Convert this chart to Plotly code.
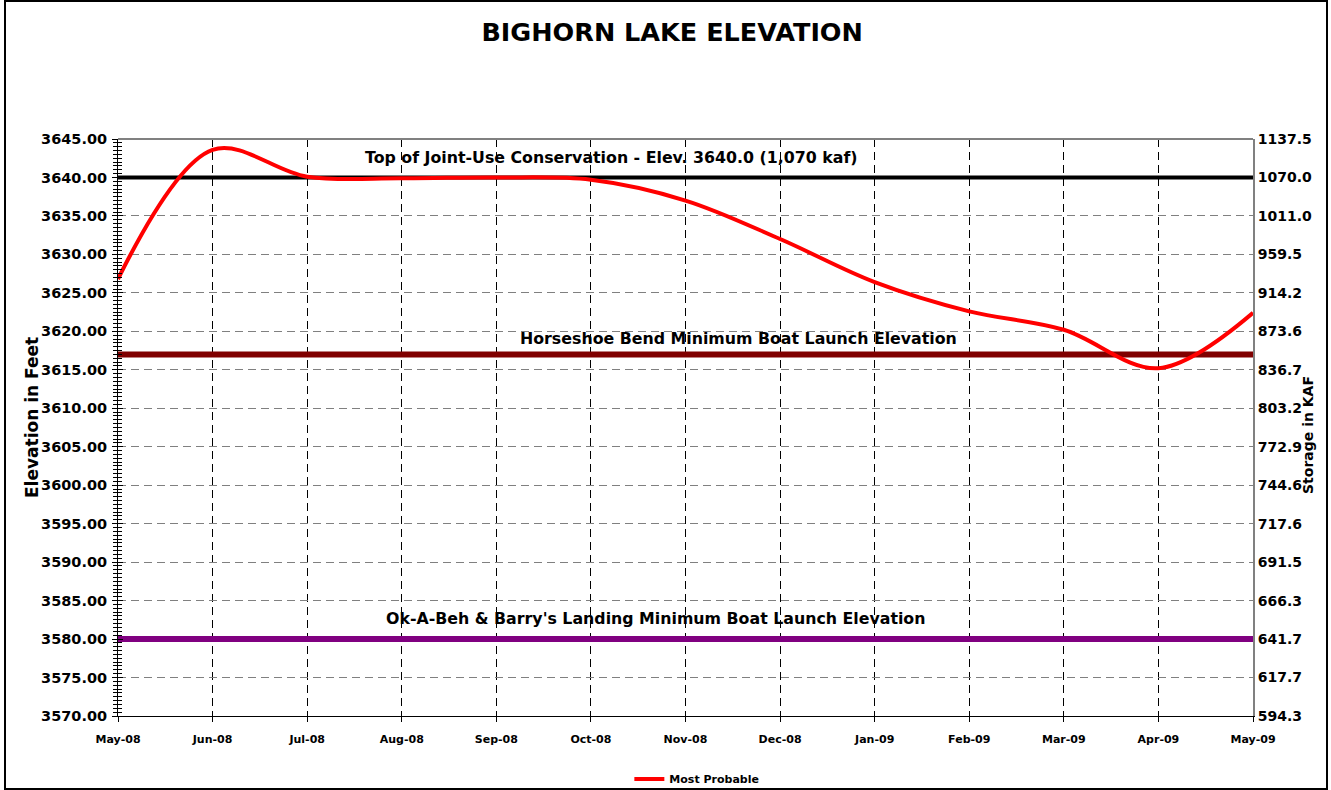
import plotly.graph_objects as go

months = ["May-08", "Jun-08", "Jul-08", "Aug-08", "Sep-08", "Oct-08", "Nov-08",
          "Dec-08", "Jan-09", "Feb-09", "Mar-09", "Apr-09", "May-09"]
most_probable = [3626.8, 3643.6, 3640.1, 3639.9, 3640.0, 3639.7, 3637.0,
                 3632.0, 3626.4, 3622.6, 3620.2, 3615.2, 3622.4]
top_joint_use = [3640.0] * 13
horseshoe_min = [3617.0] * 13
okabeh_min = [3580.0] * 13

elev_ticks = [3645, 3640, 3635, 3630, 3625, 3620, 3615, 3610, 3605, 3600,
              3595, 3590, 3585, 3580, 3575, 3570]
storage_ticks = ["1137.5", "1070.0", "1011.0", "959.5", "914.2", "873.6", "836.7",
                  "803.2", "772.9", "744.6", "717.6", "691.5", "666.3", "641.7",
                  "617.7", "594.3"]

FONT = "DejaVu Sans, Arial, sans-serif"
xi = list(range(len(months)))
YR = [3570, 3645]
XR = [0, 12]

fig = go.Figure()
fig.add_trace(go.Scatter(x=xi, y=top_joint_use, mode="lines",
                         line=dict(color="black", width=4), showlegend=False, hoverinfo="skip"))
fig.add_trace(go.Scatter(x=xi, y=horseshoe_min, mode="lines",
                         line=dict(color="#800000", width=6), showlegend=False, hoverinfo="skip"))
fig.add_trace(go.Scatter(x=xi, y=okabeh_min, mode="lines",
                         line=dict(color="#800080", width=6), showlegend=False, hoverinfo="skip"))
fig.add_trace(go.Scatter(x=xi, y=most_probable, mode="lines", name="Most Probable",
                         line=dict(color="#FF0000", width=4, shape="spline", smoothing=1.0)))
# helper traces so the overlay axes render
fig.add_trace(go.Scatter(x=[None], y=[None], yaxis="y2", showlegend=False, hoverinfo="skip"))
fig.add_trace(go.Scatter(x=[None], y=[None], yaxis="y3", xaxis="x2", showlegend=False, hoverinfo="skip"))

fig.update_layout(
    width=1331, height=790,
    paper_bgcolor="white", plot_bgcolor="white",
    margin=dict(l=118, r=78, t=139, b=74, autoexpand=False),
    font=dict(family=FONT, color="black", weight="bold"),
    title=dict(text="<b>BIGHORN LAKE ELEVATION</b>", x=0.505, xanchor="center",
               y=1 - 32 / 790, yanchor="middle", font=dict(size=25.5, family=FONT)),
    showlegend=True,
    legend=dict(orientation="h", x=0.51, xanchor="center", y=-0.109, yanchor="middle",
                font=dict(size=11, family=FONT, weight="bold"), bgcolor="rgba(0,0,0,0)"),
    xaxis=dict(range=XR, tickvals=xi, ticktext=months, showgrid=True,
               gridcolor="black", griddash="8px,5px", gridwidth=1,
               showline=True, linecolor="black", linewidth=1,
               ticks="outside", ticklen=5, tickcolor="black", zeroline=False,
               tickfont=dict(size=11, family=FONT, weight="bold"), ticklabelstandoff=8),
    xaxis2=dict(range=XR, overlaying="x", tickvals=xi, showticklabels=False,
                ticks="inside", ticklen=5, tickcolor="black", showgrid=False,
                zeroline=False, showline=False),
    yaxis=dict(range=YR, tickvals=elev_ticks, ticktext=[f"{v:.2f}" for v in elev_ticks],
               showgrid=True, gridcolor="#808080", griddash="8px,5px", gridwidth=1,
               showline=True, linecolor="black", linewidth=1, zeroline=False,
               ticks="outside", ticklen=5, tickcolor="black",
               minor=dict(dtick=0.5, tick0=3570, ticks="outside", ticklen=4, tickcolor="black", showgrid=False),
               tickfont=dict(size=14.5, family=FONT, weight="bold"), ticklabelstandoff=2),
    yaxis2=dict(range=YR, overlaying="y", side="right", tickvals=elev_ticks, ticktext=storage_ticks,
                showgrid=False, zeroline=False, showline=True, linecolor="#808080", linewidth=2,
                ticks="", tickfont=dict(size=14, family=FONT, weight="bold")),
    yaxis3=dict(range=YR, overlaying="y", side="left", tickvals=elev_ticks, showticklabels=False,
                showgrid=False, zeroline=False, showline=False,
                ticks="inside", ticklen=5, tickcolor="black",
                minor=dict(dtick=0.5, tick0=3570, ticks="inside", ticklen=4, tickcolor="black", showgrid=False)),
)

# plot area top border (gray)
fig.add_shape(type="line", xref="paper", yref="paper", x0=0, x1=1, y0=1, y1=1,
              line=dict(color="#808080", width=2))
# outer chart border
fig.add_shape(type="rect", xref="paper", yref="paper",
              x0=(5 - 118) / 1135, x1=(1327 - 118) / 1135,
              y0=(716 - 789) / 577, y1=(716 - 1) / 577,
              line=dict(color="black", width=2), fillcolor="rgba(0,0,0,0)")

ann_font = dict(size=15.8, family=FONT, weight="bold")
fig.add_annotation(x=5.22, y=3642.6, text="Top of Joint-Use Conservation - Elev. 3640.0 (1,070 kaf)",
                   showarrow=False, font=ann_font, yanchor="middle")
fig.add_annotation(x=6.56, y=3619.1, text="Horseshoe Bend Minimum Boat Launch Elevation",
                   showarrow=False, font=ann_font, yanchor="middle")
fig.add_annotation(x=5.68, y=3582.7, text="Ok-A-Beh &amp; Barry's Landing Minimum Boat Launch Elevation",
                   showarrow=False, font=ann_font, yanchor="middle")

fig.add_annotation(xref="paper", yref="paper", x=(20 - 118) / 1135, y=(716 - 418) / 577,
                   text="Elevation in Feet", textangle=-90, showarrow=False,
                   font=dict(size=17, family=FONT, weight="bold"))
fig.add_annotation(xref="paper", yref="paper", x=(1318 - 118) / 1135, y=(716 - 435) / 577,
                   text="Storage in KAF", textangle=-90, showarrow=False,
                   font=dict(size=14, family=FONT, weight="bold"))

fig.write_html("out.html", config={"displayModeBar": False},
               post_script="document.body.style.margin='0px';")
